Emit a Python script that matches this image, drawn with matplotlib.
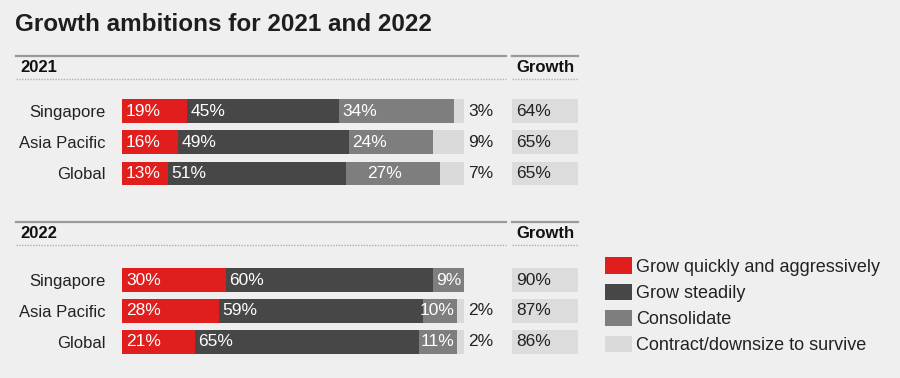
import matplotlib
matplotlib.use("Agg")
import matplotlib.pyplot as plt
from matplotlib.patches import Patch
from matplotlib.lines import Line2D
import numpy as np

# --- data ---
regions = ["Singapore", "Asia Pacific", "Global"]
years = ["2021", "2022"]
series = ["Grow quickly and aggressively", "Grow steadily", "Consolidate",
          "Contract/downsize to survive"]

quick_2021 = [19, 16, 13]
steady_2021 = [45, 49, 51]
consol_2021 = [34, 24, 27]
contract_2021 = [3, 9, 7]
growth_2021 = [64, 65, 65]

quick_2022 = [30, 28, 21]
steady_2022 = [60, 59, 65]
consol_2022 = [9, 10, 11]
contract_2022 = [0, 2, 2]
growth_2022 = [90, 87, 86]

# --- style ---
BG = "#efefef"
COLORS = ["#e01e1e", "#474747", "#7e7e7e", "#dadada"]
TXT = "#222222"
W, H = 900, 378

plt.rcParams["font.family"] = ["Liberation Sans", "DejaVu Sans"]
plt.rcParams["font.size"] = 12

fig = plt.figure(figsize=(W / 100, H / 100), dpi=100, facecolor=BG)


def px_axes(x0, y0, x1, y1):
    """axes from pixel box (top-left origin)"""
    ax = fig.add_axes([x0 / W, 1 - y1 / H, (x1 - x0) / W, (y1 - y0) / H])
    ax.set_facecolor("none")
    for s in ax.spines.values():
        s.set_visible(False)
    return ax


def hline(x0, x1, y, **kw):
    fig.add_artist(Line2D([x0 / W, x1 / W], [1 - y / H, 1 - y / H], **kw))


def section(year, quick, steady, consol, contract, growth, top, rows_top, rows_bot):
    # header lines + titles
    hline(16, 506, top, color="#9a9a9a", lw=1.6)
    hline(16, 506, top + 23, color="#b0b0b0", lw=1.0, ls=(0, (1, 1)))
    hline(512, 578, top, color="#9a9a9a", lw=1.6)
    hline(512, 578, top + 23, color="#b0b0b0", lw=1.0, ls=(0, (1, 1)))
    fig.text(20 / W, 1 - (top + 11.5) / H, year, fontsize=12, fontweight="bold",
             color="#111111", va="center", ha="left")
    fig.text(545 / W, 1 - (top + 11.5) / H, "Growth", fontsize=12, fontweight="bold",
             color="#111111", va="center", ha="center")

    # stacked bars, normalised to 100
    vals = np.array([quick, steady, consol, contract], dtype=float)
    tot = vals.sum(axis=0)
    norm = vals / tot * 100
    y = np.arange(len(regions))

    ax = px_axes(122.5, rows_top, 464, rows_bot)
    left = np.zeros(len(regions))
    for k in range(4):
        ax.barh(y, norm[k], left=left, height=0.77, color=COLORS[k], linewidth=0)
        for i in range(len(regions)):
            v = vals[k, i]
            if v == 0:
                continue
            lbl = f"{int(v)}%"
            if k == 3:
                ax.annotate(lbl, (100, y[i]), xytext=(3, 0), textcoords="offset points",
                            ha="left", va="center", color=TXT, fontsize=12.5)
            elif k == 2 and norm[k, i] < 15:
                ax.annotate(lbl, (left[i] + norm[k, i], y[i]), xytext=(-2, 0),
                            textcoords="offset points", ha="right", va="center",
                            color="white", fontsize=12.5)
            elif k == 2 and year == "2021" and regions[i] == "Global":
                ax.annotate(lbl, (left[i] + norm[k, i] / 2, y[i]), xytext=(-6, 0),
                            textcoords="offset points", ha="center", va="center",
                            color="white", fontsize=12.5)
            else:
                ax.annotate(lbl, (left[i], y[i]), xytext=(2.5, 0),
                            textcoords="offset points", ha="left", va="center",
                            color="white", fontsize=12.5)
        left += norm[k]
    ax.set_xlim(0, 100)
    ax.set_ylim(len(regions) - 0.5, -0.5)
    ax.set_xticks([])
    ax.set_yticks(y)
    ax.set_yticklabels(regions, fontsize=12, color=TXT)
    ax.tick_params(axis="y", length=0, pad=12.5)

    # growth column
    gx = px_axes(512.3, rows_top, 577.5, rows_bot)
    gx.barh(y, [1] * len(regions), height=0.77, color="#dcdcdc", linewidth=0)
    for i, g in enumerate(growth):
        gx.annotate(f"{g}%", (0, y[i]), xytext=(2.5, 0), textcoords="offset points",
                    ha="left", va="center", color=TXT, fontsize=12.5)
    gx.set_xlim(0, 1)
    gx.set_ylim(len(regions) - 0.5, -0.5)
    gx.set_xticks([])
    gx.set_yticks([])


fig.text(15 / W, 1 - 24.5 / H, "Growth ambitions for 2021 and 2022", fontsize=17.5,
         fontweight="bold", color="#1e1e1e", va="center", ha="left")

section("2021", quick_2021, steady_2021, consol_2021, contract_2021, growth_2021,
        56, 95.8, 189.0)
section("2022", quick_2022, steady_2022, consol_2022, contract_2022, growth_2022,
        222, 264.6, 357.2)

handles = [Patch(facecolor=c, edgecolor="none") for c in COLORS]
fig.legend(handles, series, loc="upper left", bbox_to_anchor=(605 / W, 1 - 257.5 / H),
           frameon=False, fontsize=13, handlelength=1.5, handleheight=1.0,
           handletextpad=0.2, labelspacing=0.44, borderpad=0, borderaxespad=0,
           labelcolor=TXT)

fig.savefig("out.png", dpi=100, facecolor=BG)
